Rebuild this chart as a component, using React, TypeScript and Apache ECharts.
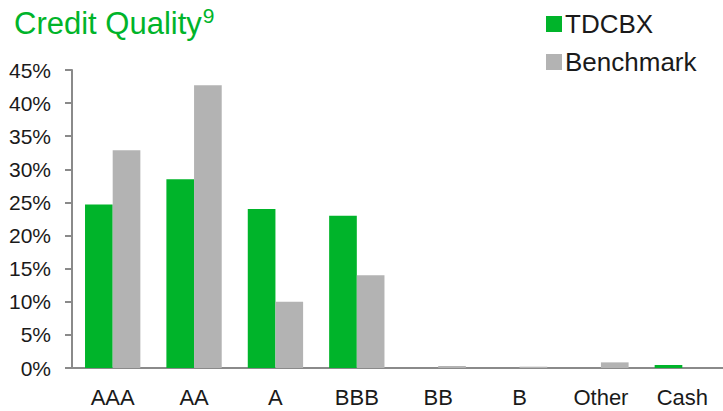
import React, { useEffect, useRef } from "react";
import * as echarts from "echarts";

const categories = ["AAA", "AA", "A", "BBB", "BB", "B", "Other", "Cash"];
const tdcbx = [24.7, 28.5, 24.0, 23.0, 0, 0, 0, 0.45];
const benchmark = [32.9, 42.7, 10.0, 14.0, 0.3, 0.2, 0.85, 0];
const yTicks = [0, 5, 10, 15, 20, 25, 30, 35, 40, 45];

const GREEN = "#00B42A";
const GRAY = "#B3B3B3";
const AXIS = "#8A8A8A";
const NARROW = '"Liberation Sans Narrow", "Arial Narrow", "Liberation Sans", Arial, sans-serif';
const SANS = '"Liberation Sans", Arial, sans-serif';

export default function App() {
  const ref = useRef<HTMLDivElement>(null);
  useEffect(() => {
    const chart = echarts.init(ref.current!, null, { renderer: "svg" });
    chart.setOption({
      animation: false,
      title: {
        left: 9,
        top: 0,
        text: "{a|Credit Quality}{b|9}",
        textStyle: {
          fontWeight: "normal",
          rich: {
            a: { fontFamily: SANS, fontSize: 31, fontWeight: "normal", color: GREEN, lineHeight: 36 },
            b: { fontFamily: SANS, fontSize: 21, fontWeight: "normal", color: GREEN, verticalAlign: "top", lineHeight: 36, padding: [0, 0, 0, 1] },
          },
        },
      },
      legend: {
        orient: "vertical",
        left: 541,
        top: 6,
        itemWidth: 16,
        itemHeight: 16,
        itemGap: 12,
        icon: "rect",
        textStyle: { fontFamily: SANS, fontSize: 26, color: "#1a1a1a", padding: [0, 0, 0, -2] },
        data: ["TDCBX", "Benchmark"],
      },
      grid: { left: 72, right: -8, top: 70, bottom: 43, containLabel: false },
      xAxis: {
        type: "category",
        data: categories,
        axisLine: { lineStyle: { color: AXIS, width: 2 } },
        axisTick: { length: 7, lineStyle: { color: AXIS, width: 2 } },
        axisLabel: { fontFamily: NARROW, fontSize: 22, color: "#1a1a1a", margin: 18, interval: 0 },
      },
      yAxis: {
        type: "value",
        min: yTicks[0],
        max: yTicks[yTicks.length - 1],
        interval: 5,
        splitLine: { show: false },
        axisLine: { show: true, lineStyle: { color: AXIS, width: 2 } },
        axisTick: { show: true, length: 7, lineStyle: { color: AXIS, width: 2 } },
        axisLabel: { fontFamily: NARROW, fontSize: 21, color: "#1a1a1a", margin: 21, formatter: "{value}%" },
      },
      series: [
        {
          name: "TDCBX",
          type: "bar",
          data: tdcbx,
          itemStyle: { color: GREEN },
          barGap: "0%",
          barCategoryGap: "32%",
        },
        {
          name: "Benchmark",
          type: "bar",
          data: benchmark,
          itemStyle: { color: GRAY },
        },
      ],
    });
    return () => chart.dispose();
  }, []);
  return (
    <div
      ref={ref}
      style={{ position: "fixed", left: 0, top: 0, width: 723, height: 411, background: "#fff" }}
    />
  );
}
